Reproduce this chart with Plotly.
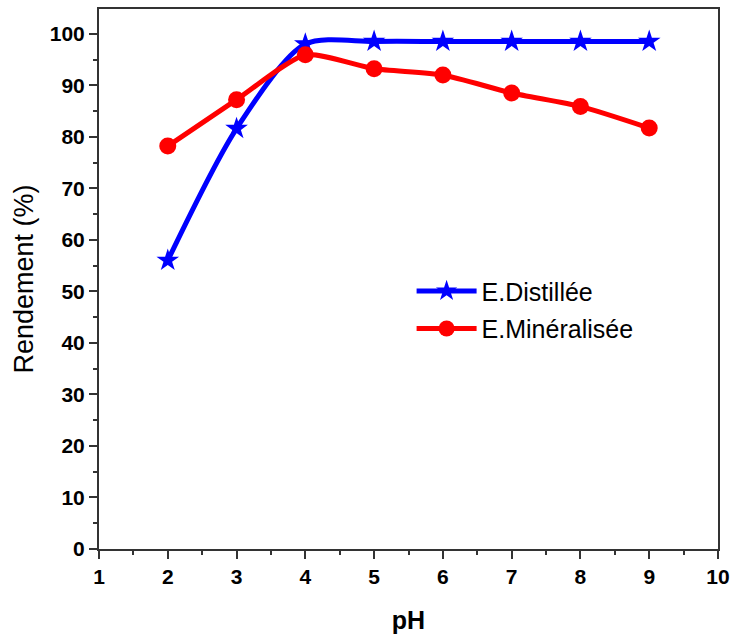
import plotly.graph_objects as go

# pH values and yields (%) for each water type
ph = [2, 3, 4, 5, 6, 7, 8, 9]
rendement_distillee = [56, 81.6, 98, 98.5, 98.5, 98.5, 98.5, 98.5]
rendement_mineralisee = [78.2, 87.2, 95.9, 93.2, 92.0, 88.5, 85.9, 81.7]

x_ticks = list(range(1, 11))
y_ticks = list(range(0, 101, 10))

FONT = "Liberation Sans, Arial, sans-serif"

fig = go.Figure()
fig.add_trace(go.Scatter(
    x=ph, y=rendement_distillee, name="E.Distillée", legendgroup="d",
    mode="lines+markers",
    line=dict(color="#0000ff", width=5, shape="spline", smoothing=0.8),
    marker=dict(symbol="star", size=17, color="#0000ff"),
))
fig.add_trace(go.Scatter(
    x=ph, y=rendement_mineralisee, name="E.Minéralisée", legendgroup="m",
    mode="lines+markers",
    line=dict(color="#ff0000", width=5, shape="spline", smoothing=0.6),
    marker=dict(symbol="circle", size=17, color="#ff0000"),
))

axis_common = dict(
    showgrid=False, zeroline=False, showline=True, linecolor="#333333",
    linewidth=2, mirror=True, ticks="outside", ticklen=8, tickwidth=2,
    tickcolor="#333333",
    tickfont=dict(family=FONT, size=21, color="black", weight="bold"),
)

fig.update_layout(
    width=737, height=637,
    margin=dict(l=99, r=14, t=7, b=88),
    paper_bgcolor="white", plot_bgcolor="white",
    showlegend=True,
    legend=dict(
        x=0.505, y=0.443, xanchor="left", yanchor="middle",
        bgcolor="rgba(0,0,0,0)",
        font=dict(family=FONT, size=25, color="black"),
        itemwidth=60, tracegroupgap=2,
    ),
    xaxis=dict(
        range=[1, 10], tickvals=x_ticks,
        minor=dict(ticks="outside", ticklen=4, tickwidth=2, dtick=0.5,
                   tick0=1, tickcolor="#333333"),
        title=dict(text="<b>pH</b>", font=dict(family=FONT, size=25, color="black"),
                   standoff=24),
        **axis_common,
    ),
    yaxis=dict(
        range=[0, 104.8], tickvals=y_ticks,
        minor=dict(ticks="outside", ticklen=4, tickwidth=2, dtick=5,
                   tick0=0, tickcolor="#333333"),
        title=dict(text="Rendement (%)", font=dict(family=FONT, size=27, color="black"),
                   standoff=8),
        **axis_common,
    ),
)

fig.write_html("out.html")
